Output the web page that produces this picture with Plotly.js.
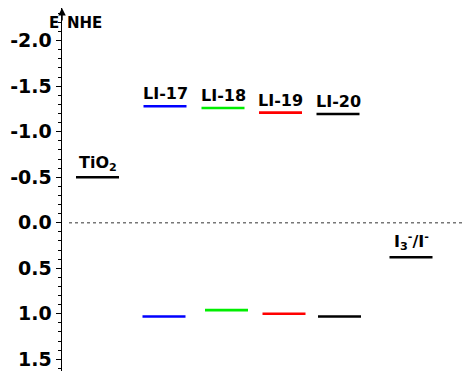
<!DOCTYPE html>
<html><head><meta charset="utf-8">
<script src="https://cdn.plot.ly/plotly-3.0.1.min.js"></script>
<style>html,body{margin:0;padding:0;background:#fff}</style>
</head><body><div id="chart" style="width:464px;height:371px"></div>
<script>
// Data
var dyes = ["LI-17", "LI-18", "LI-19", "LI-20"];
var dyeLumo = [-1.28, -1.26, -1.21, -1.195];   // E vs NHE (V)
var dyeHomo = [1.03, 0.96, 1.00, 1.03];
var dyeColors = ["#0000ff", "#00ee00", "#ff0000", "#000000"];
var tio2Cb = -0.5;
var redox = 0.38;
var majorTicks = [-2.0, -1.5, -1.0, -0.5, 0.0, 0.5, 1.0, 1.5];
var majorTickText = ["-2.0", "-1.5", "-1.0", "-0.5", "0.0", "0.5", "1.0", "1.5"];

// layout positions (x axis units = px from the E axis)
var dyeLumoX = [103, 161, 218.5, 276];
var dyeHomoX = [102, 164.5, 222, 277.5];
var tio2X = 35.5;
var redoxX = 349;
var halfW = 21.5;

var traces = [];
function level(xc, y, color) {
  traces.push({x: [xc - halfW, xc + halfW], y: [y, y], mode: 'lines',
    line: {color: color, width: 2.6}, hoverinfo: 'skip', showlegend: false});
}
level(tio2X, tio2Cb, '#000');
for (var i = 0; i < dyes.length; i++) {
  level(dyeLumoX[i], dyeLumo[i], dyeColors[i]);
  level(dyeHomoX[i], dyeHomo[i], dyeColors[i]);
}
level(redoxX, redox, '#000');

var FAM = 'DejaVu Sans, Arial, sans-serif';
var fnt = {family: FAM, size: 16, color: '#000', weight: 'bold'};
var ann = [];
function lab(x, y, txt, yshift) {
  ann.push({x: x, y: y, xref: 'x', yref: 'y', text: '<b>' + txt + '</b>', showarrow: false,
    font: fnt, yanchor: 'bottom', yshift: yshift});
}
lab(tio2X, tio2Cb, 'TiO<sub>2</sub>', 1);
for (var j = 0; j < dyes.length; j++) lab(dyeLumoX[j], dyeLumo[j], dyes[j], 1);
lab(redoxX, redox, 'I<sub>3</sub><sup>-</sup>/I<sup>-</sup>', 2);

// axis title pieces + arrow
ann.push({xref: 'paper', yref: 'paper', x: 0, y: 1, ax: 0, ay: 14, axref: 'pixel', ayref: 'pixel',
  showarrow: true, arrowhead: 2, arrowsize: 1, arrowwidth: 1.5, arrowcolor: '#000', text: ''});
ann.push({xref: 'paper', yref: 'paper', x: 0, y: 0.988, xanchor: 'right', yanchor: 'top', xshift: -1,
  text: '<b>E</b>', showarrow: false, font: {family: FAM, size: 15, color: '#000'}});
ann.push({xref: 'paper', yref: 'paper', x: 0, y: 0.988, xanchor: 'left', yanchor: 'top', xshift: 3,
  text: '<b>NHE</b>', showarrow: false, font: {family: FAM, size: 15, color: '#000'}});

var layout = {
  width: 464, height: 371,
  margin: {l: 62, r: 0, t: 8, b: 0},
  paper_bgcolor: '#fff', plot_bgcolor: '#fff',
  showlegend: false,
  xaxis: {range: [0, 402], visible: false, fixedrange: true},
  yaxis: {range: [1.629, -2.359], showgrid: false, zeroline: false,
    showline: true, linecolor: '#000', linewidth: 1.5,
    tickvals: majorTicks, ticktext: majorTickText, ticks: 'outside', ticklen: 5, tickwidth: 1.3,
    tickcolor: '#000',
    tickfont: {family: FAM, size: 19, color: '#000', weight: 'bold'},
    minor: {dtick: 0.1, tick0: 0, ticks: 'outside', ticklen: 3, tickwidth: 1, tickcolor: '#000'}},
  shapes: [{type: 'line', xref: 'x', yref: 'y', x0: 7, x1: 402, y0: 0, y1: 0,
    line: {color: '#777', width: 1.5, dash: 'dot'}}],
  annotations: ann
};
Plotly.newPlot('chart', traces, layout, {displayModeBar: false, staticPlot: true});
</script></body></html>
